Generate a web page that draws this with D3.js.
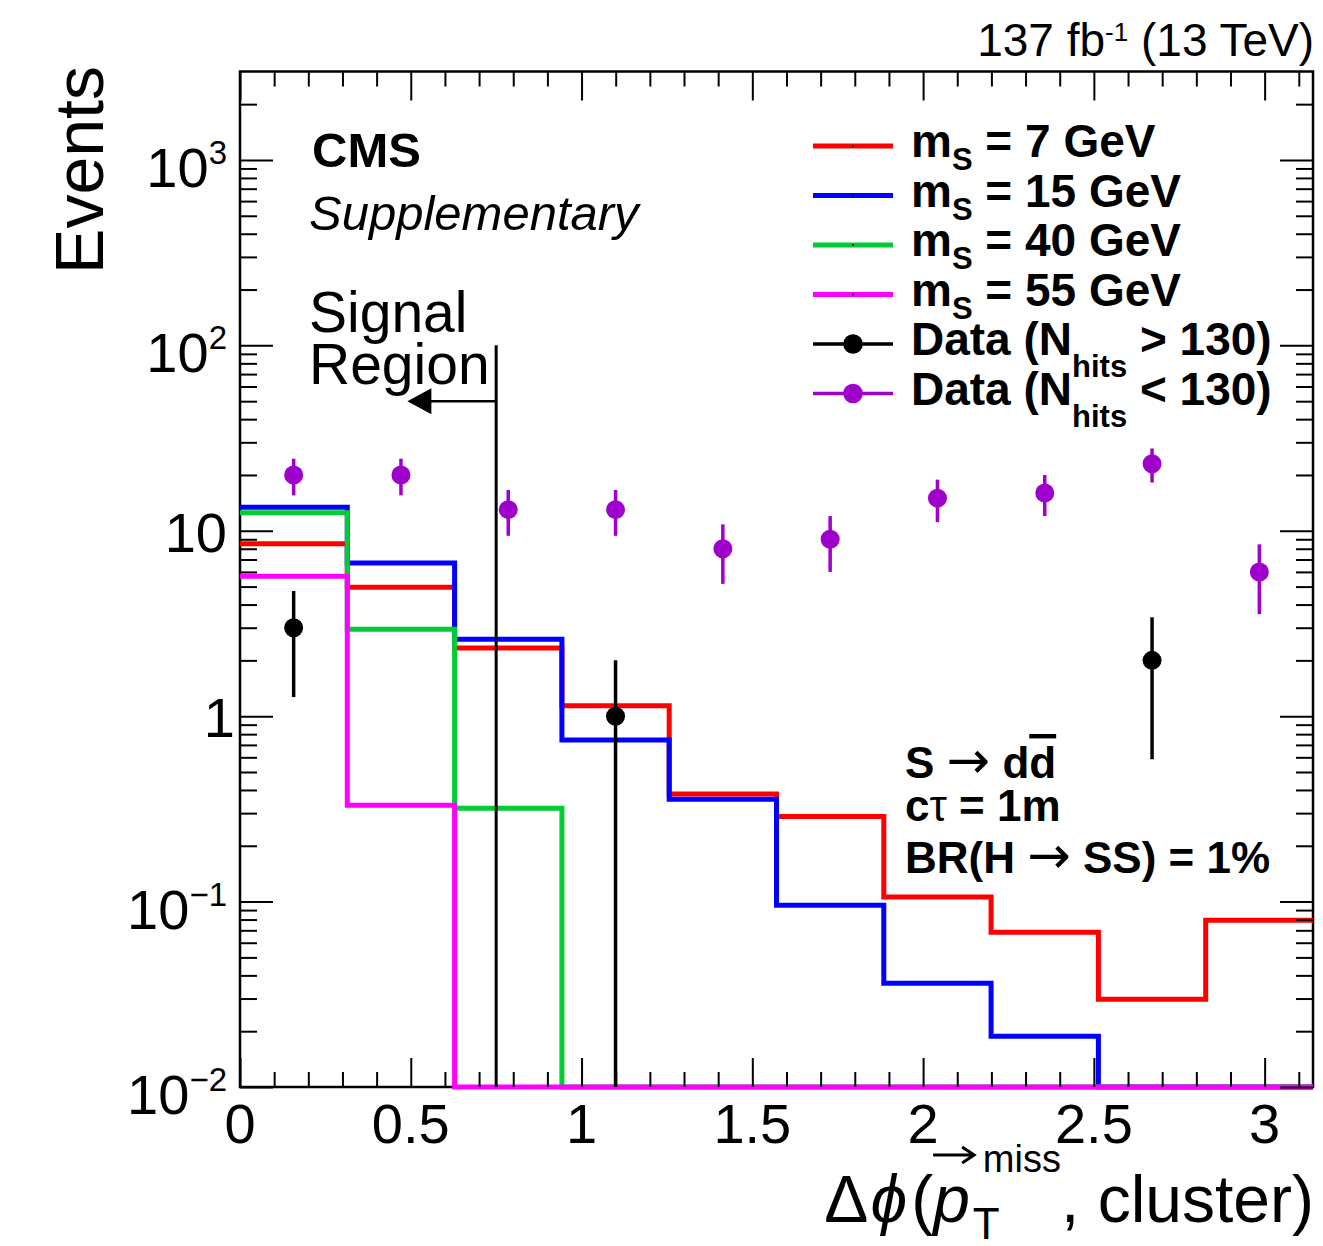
<!DOCTYPE html>
<html>
<head>
<meta charset="utf-8">
<script src="https://cdn.jsdelivr.net/npm/d3@7"></script>
<style>
body { margin: 0; background: #fff; }
text { font-family: "Liberation Sans", Arial, Helvetica, sans-serif; fill: #000; }
.arrow { font-family: "DejaVu Sans", sans-serif; font-weight: normal; }
</style>
</head>
<body>
<script>
// Canvas size and the frame of the plot
var w = 1323;
var h = 1246;
var frameL = 240, frameR = 1313, frameT = 71.5, frameB = 1087;

// Binning: 10 bins of delta phi between 0 and pi
var nBins = 10;
var binEdges = d3.range(nBins + 1).map(function(i) { return i * Math.PI / nBins; });

// Signal histograms (events per bin)
var sig7 = [8.5, 4.96, 2.33, 1.137, 0.38, 0.288, 0.106, 0.0684, 0.0297, 0.0794];
var sig15 = [13.4, 6.7, 2.6, 0.743, 0.356, 0.0955, 0.0363, 0.0188, 0, 0];
var sig40 = [12.5, 2.94, 0.319, 0, 0, 0, 0, 0, 0, 0];
var sig55 = [5.69, 0.331, 0, 0, 0, 0, 0, 0, 0, 0];

// Observed data counts
var dataHigh = [3, 0, 0, 1, 0, 0, 0, 0, 2, 0];
var dataLow = [20, 20, 13, 13, 8, 9, 15, 16, 23, 6];

// Legend
var massLabels = ["7", "15", "40", "55"];
var massColors = ["#ff0000", "#0000ff", "#00cc33", "#ff00ff"];
var dataLabels = ["> 130)", "< 130)"];
var dataColors = ["#000000", "#9f00cc"];

// Tick labels
var xMajor = [0, 0.5, 1, 1.5, 2, 2.5, 3];
var xLabels = ["0", "0.5", "1", "1.5", "2", "2.5", "3"];
var yMajor = [0.01, 0.1, 1, 10, 100, 1000];
var yBase = ["10", "10", "1", "10", "10", "10"];
var yExp = ["\u22122", "\u22121", "", "", "2", "3"];

// Signal region cut
var cutX = 0.75, cutTop = 100, arrowY = 50, arrowTip = 0.49;

// Scales
var x = d3.scaleLinear().domain([0, Math.PI]).range([frameL, frameR]);
var yMin = 0.01;
var y = d3.scaleLog().domain([yMin, 3000]).range([frameB, frameT]);
function yc(v) { return y(Math.max(v, yMin)); }

var svg = d3.select("body")
    .append("svg")
    .attr("width", w)
    .attr("height", h);

// frame first, so the histograms lying on the bottom edge stay visible
svg.append("rect")
    .attr("x", frameL).attr("y", frameT)
    .attr("width", frameR - frameL).attr("height", frameB - frameT)
    .attr("fill", "none").attr("stroke", "#000").attr("stroke-width", 2.5);

// ---- histograms
var step = d3.line()
    .x(function(d) { return x(d[0]); })
    .y(function(d) { return yc(d[1]); })
    .curve(d3.curveStepAfter);

[sig7, sig15, sig40, sig55].forEach(function(vals, k) {
    var pts = binEdges.map(function(e, i) { return [e, vals[Math.min(i, nBins - 1)]]; });
    svg.append("path")
        .attr("d", step(pts))
        .attr("fill", "none")
        .attr("stroke", massColors[k])
        .attr("stroke-width", 5);
});

// ---- data points with poisson errors
function binCenter(i) { return (binEdges[i] + binEdges[i + 1]) / 2; }

[dataHigh, dataLow].forEach(function(vals, k) {
    var pts = vals.map(function(v, i) { return { x: binCenter(i), v: v }; })
        .filter(function(d) { return d.v > 0; });
    var g = svg.append("g");
    g.selectAll("line")
        .data(pts)
        .enter()
        .append("line")
        .attr("x1", function(d) { return x(d.x); })
        .attr("x2", function(d) { return x(d.x); })
        .attr("y1", function(d) { return yc(d.v - Math.sqrt(d.v)); })
        .attr("y2", function(d) { return yc(d.v + Math.sqrt(d.v)); })
        .attr("stroke", dataColors[k])
        .attr("stroke-width", 3.5);
    g.selectAll("circle")
        .data(pts)
        .enter()
        .append("circle")
        .attr("cx", function(d) { return x(d.x); })
        .attr("cy", function(d) { return y(d.v); })
        .attr("r", 9.5)
        .attr("fill", dataColors[k]);
});

// ---- signal region line and arrow
svg.append("line")
    .attr("x1", x(cutX)).attr("x2", x(cutX))
    .attr("y1", y(yMin)).attr("y2", y(cutTop))
    .attr("stroke", "#000").attr("stroke-width", 3);
svg.append("line")
    .attr("x1", x(cutX)).attr("x2", x(arrowTip) + 20)
    .attr("y1", y(arrowY)).attr("y2", y(arrowY))
    .attr("stroke", "#000").attr("stroke-width", 2.5);
svg.append("path")
    .attr("d", "M" + x(arrowTip) + "," + y(arrowY) + "l24,-13v26z")
    .attr("fill", "#000");

// ---- ticks (inside, on all four sides)
var xMinor = d3.range(1, 32).map(function(i) { return i / 10; })
    .filter(function(v) { return Math.abs(v * 2 - Math.round(v * 2)) > 1e-6; });
var yMinor = [];
yMajor.forEach(function(d) {
    for (var m = 2; m <= 9; m++) if (d * m < 2999) yMinor.push(d * m);
});

function tickAxis(axis, tx, ty, values, size) {
    svg.append("g")
        .attr("transform", "translate(" + tx + "," + ty + ")")
        .call(axis.tickValues(values).tickSize(-size).tickFormat(""))
        .call(function(g) {
            g.select(".domain").remove();
            g.selectAll("line").attr("stroke-width", 2);
        });
}
tickAxis(d3.axisBottom(x), 0, frameB, xMajor, 29);
tickAxis(d3.axisBottom(x), 0, frameB, xMinor, 15);
tickAxis(d3.axisTop(x), 0, frameT, xMajor, 29);
tickAxis(d3.axisTop(x), 0, frameT, xMinor, 15);
tickAxis(d3.axisLeft(y), frameL, 0, yMajor, 33);
tickAxis(d3.axisLeft(y), frameL, 0, yMinor, 17);
tickAxis(d3.axisRight(y), frameR, 0, yMajor, 33);
tickAxis(d3.axisRight(y), frameR, 0, yMinor, 17);

// x tick labels
svg.append("g").selectAll("text")
    .data(xMajor)
    .enter()
    .append("text")
    .attr("x", function(d) { return x(d); })
    .attr("y", 1143)
    .attr("text-anchor", "middle")
    .attr("font-size", 56)
    .text(function(d, i) { return xLabels[i]; });

// y tick labels, 10^n written with a superscript
var yl = svg.append("g").selectAll("text")
    .data(yMajor)
    .enter()
    .append("text")
    .attr("x", function(d, i) { return yBase[i] === "1" ? 235 : 227; })
    .attr("y", function(d, i) { return y(d) + (yExp[i] ? 27 : 21); })
    .attr("text-anchor", "end")
    .attr("font-size", 56);
yl.append("tspan").text(function(d, i) { return yBase[i]; });
yl.append("tspan")
    .attr("font-size", 33)
    .attr("dy", -23)
    .text(function(d, i) { return yExp[i]; });

// ---- axis titles
svg.append("text")
    .attr("transform", "translate(103,66) rotate(-90)")
    .attr("text-anchor", "end")
    .attr("font-size", 68)
    .text("Events");

var xt = svg.append("g");
var cx = 0;
function piece(str, size, dy, italic) {
    var t = xt.append("text")
        .attr("x", cx).attr("y", dy)
        .attr("font-size", size)
        .attr("font-style", italic ? "italic" : "normal")
        .text(str);
    return t.node().getComputedTextLength();
}
cx += piece("\u0394", 66, 0, false) + 2;
cx += piece("\u03d5", 66, 0, true) + 4;
cx += piece("(", 66, 0, false);
var pX = cx;
cx += piece("p", 66, 0, true) + 3;
var tW = piece("T", 44, 17, false);
cx += 10;
var mW = piece("miss", 38, -50, false);
cx += Math.max(mW, tW - 10);
piece(", cluster)", 66, 0, false);
xt.append("path")
    .attr("d", "M" + pX + "," + (-67) + "H" + (pX + 41) +
        "M" + (pX + 29) + "," + (-75) + "L" + (pX + 41) + "," + (-67) + "L" + (pX + 29) + "," + (-59))
    .attr("fill", "none").attr("stroke", "#000").attr("stroke-width", 3);
var bb = xt.node().getBBox();
xt.attr("transform", "translate(" + (1314 - (bb.x + bb.width)) + ",1222)");

// ---- CMS labels
svg.append("text")
    .attr("x", 312).attr("y", 167)
    .attr("font-size", 49).attr("font-weight", "bold")
    .text("CMS");
svg.append("text")
    .attr("x", 309).attr("y", 230)
    .attr("font-size", 49).attr("font-style", "italic")
    .text("Supplementary");

var lumi = svg.append("text")
    .attr("x", 1314).attr("y", 56)
    .attr("text-anchor", "end")
    .attr("font-size", 46);
lumi.append("tspan").text("137 fb");
lumi.append("tspan").attr("font-size", 26).attr("dy", -15).text("-1");
lumi.append("tspan").attr("dy", 15).text(" (13 TeV)");

svg.append("text").attr("x", 309).attr("y", 332).attr("font-size", 57).text("Signal");
svg.append("text").attr("x", 309).attr("y", 384).attr("font-size", 57).text("Region");

// ---- legend
var rowH = 49.5, legY = 146;
var leg = svg.append("g").attr("font-weight", "bold");

massLabels.forEach(function(m, i) {
    var yy = legY + i * rowH;
    leg.append("line")
        .attr("x1", 813).attr("x2", 893).attr("y1", yy).attr("y2", yy)
        .attr("stroke", massColors[i]).attr("stroke-width", 5);
    leg.append("rect")
        .attr("x", 852).attr("y", yy - 1).attr("width", 2).attr("height", 2)
        .attr("fill", "#000");
    var t = leg.append("text").attr("x", 911).attr("y", yy + 11).attr("font-size", 46);
    t.append("tspan").text("m");
    t.append("tspan").attr("font-size", 31).attr("dy", 13).text("S");
    t.append("tspan").attr("dy", -13).text(" = " + m + " GeV");
});

dataLabels.forEach(function(lab, i) {
    var yy = legY + (i + 4) * rowH;
    leg.append("line")
        .attr("x1", 813).attr("x2", 893).attr("y1", yy).attr("y2", yy)
        .attr("stroke", dataColors[i]).attr("stroke-width", 3.5);
    leg.append("circle")
        .attr("cx", 853).attr("cy", yy).attr("r", 9.8)
        .attr("fill", dataColors[i]);
    var t = leg.append("text").attr("x", 911).attr("y", yy + 11).attr("font-size", 46);
    t.append("tspan").text("Data (N");
    t.append("tspan").attr("font-size", 31).attr("dy", 22).text("hits");
    t.append("tspan").attr("dy", -22).text(" " + lab);
});

// ---- model text
var info = svg.append("g").attr("font-weight", "bold").attr("font-size", 44);
var t1 = info.append("text").attr("x", 905).attr("y", 778);
t1.append("tspan").text("S ");
t1.append("tspan").attr("class", "arrow").attr("font-size", 52).text("\u2192");
t1.append("tspan").attr("font-size", 44).text(" d");
t1.append("tspan").style("text-decoration", "overline").text("d");
var t2 = info.append("text").attr("x", 905).attr("y", 821);
t2.append("tspan").text("c");
t2.append("tspan").attr("font-weight", "normal").text("\u03c4");
t2.append("tspan").text(" = 1m");
var t3 = info.append("text").attr("x", 905).attr("y", 873);
t3.append("tspan").text("BR(H ");
t3.append("tspan").attr("class", "arrow").attr("font-size", 52).text("\u2192");
t3.append("tspan").attr("font-size", 44).text(" SS) = 1%");
</script>
</body>
</html>
